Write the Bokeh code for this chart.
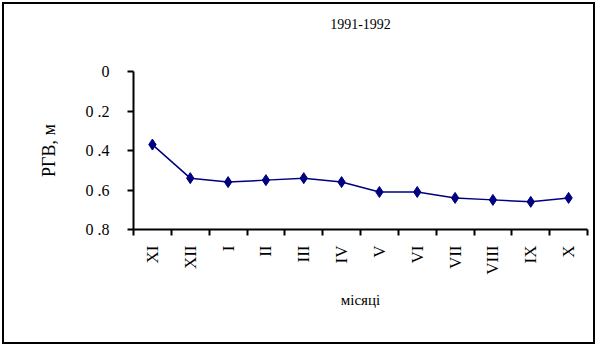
import math
from bokeh.plotting import figure
from bokeh.models import Range1d, FixedTicker, Title
from bokeh.embed import file_html
from bokeh.resources import INLINE

months = ["XI", "XII", "I", "II", "III", "IV", "V", "VI", "VII", "VIII", "IX", "X"]
depth = [0.37, 0.54, 0.56, 0.55, 0.54, 0.56, 0.61, 0.61, 0.64, 0.65, 0.66, 0.64]
y_ticks = [0, 0.2, 0.4, 0.6, 0.8]
y_tick_labels = ["0", "0 .2", "0 .4", "0 .6", "0 .8"]
title_text = "1991-1992"
x_label = "місяці"
y_label = "РГВ, м"

FONT = "Liberation Serif"

xs = [i + 0.5 for i in range(len(months))]

p = figure(width=593, height=342, output_backend="svg", toolbar_location=None,
           x_range=Range1d(0, len(months)), y_range=Range1d(0.8, 0),
           min_border_left=129, min_border_right=10, min_border_top=67, min_border_bottom=117,
           margin=(2, 0, 0, 2),
           styles={"border": "2px solid black"})
p.title = None
p.add_layout(Title(text=" ", text_font_size="36px", standoff=0), "above")
p.add_layout(Title(text=title_text, align="center", text_font=FONT, text_font_size="14px",
                   text_font_style="normal", text_color="black", standoff=0), "above")
p.outline_line_color = None
p.grid.visible = False
p.background_fill_color = "white"

p.line(xs, depth, line_color="#000080", line_width=1.5)
p.scatter(xs, depth, marker="diamond", size=11, fill_color="#000080", line_color="#000080")

xa = p.xaxis[0]
xa.ticker = FixedTicker(ticks=xs, minor_ticks=list(range(len(months) + 1)))
xa.major_label_overrides = {x: m for x, m in zip(xs, months)}
xa.major_tick_out = 0
xa.major_tick_in = 0
xa.minor_tick_out = 6
xa.minor_tick_in = 0
xa.minor_tick_line_width = 2
xa.minor_tick_line_color = "black"
xa.axis_line_width = 2
xa.axis_line_color = "black"
xa.major_label_orientation = math.pi / 2
xa.major_label_standoff = 10
xa.major_label_text_font = FONT
xa.major_label_text_font_size = "17px"
xa.major_label_text_color = "black"
xa.axis_label = x_label
xa.axis_label_text_font = FONT
xa.axis_label_text_font_size = "15px"
xa.axis_label_text_font_style = "normal"
xa.axis_label_text_color = "black"
xa.axis_label_standoff = 14

ya = p.yaxis[0]
ya.ticker = FixedTicker(ticks=y_ticks, minor_ticks=[])
ya.major_label_overrides = {t: l for t, l in zip(y_ticks, y_tick_labels)}
ya.major_tick_out = 6
ya.major_tick_in = 0
ya.major_tick_line_width = 2
ya.major_tick_line_color = "black"
ya.axis_line_width = 2
ya.axis_line_color = "black"
ya.major_label_standoff = 18
ya.major_label_text_font = FONT
ya.major_label_text_font_size = "16px"
ya.major_label_text_color = "black"
ya.axis_label = y_label
ya.axis_label_text_font = FONT
ya.axis_label_text_font_size = "18px"
ya.axis_label_text_font_style = "normal"
ya.axis_label_text_color = "black"
ya.axis_label_standoff = 24

open("out.html", "w").write(file_html(p, INLINE))
